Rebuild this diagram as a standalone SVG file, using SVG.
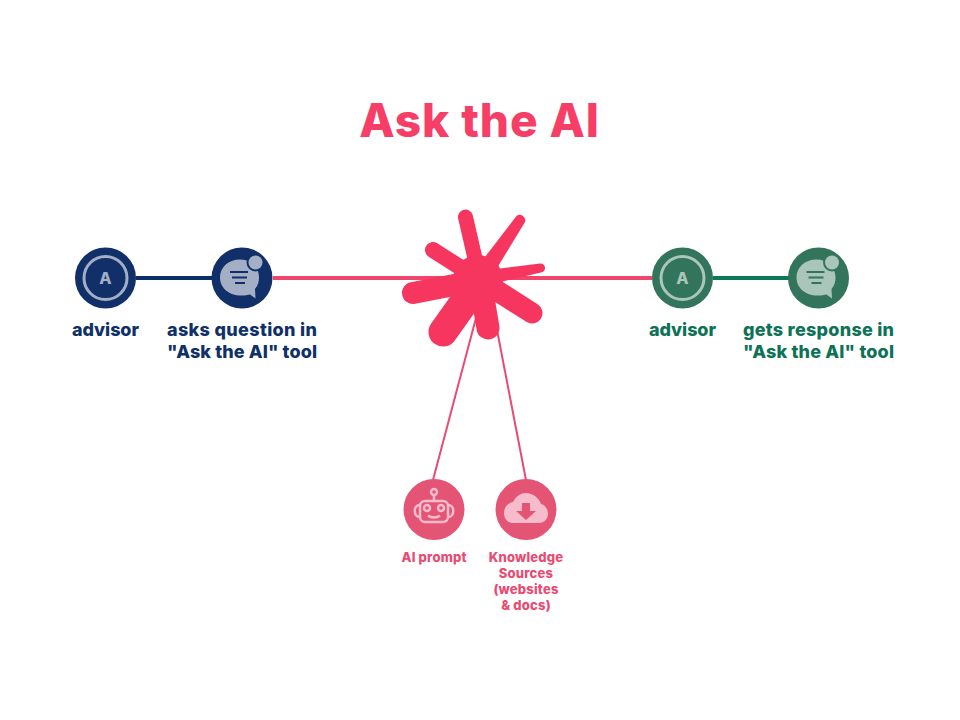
<svg xmlns="http://www.w3.org/2000/svg" width="960" height="720" viewBox="0 0 960 720">
<style>
text{font-family:"Inter","Liberation Sans",sans-serif;font-weight:800}
.title{font-size:46px;fill:#f63e66;text-anchor:middle;letter-spacing:.9px}
.blue{font-size:18px;fill:#0f3068}
.green{font-size:18px;fill:#0e7257}
.mid{text-anchor:middle}
.small{font-size:13px;fill:#ea4a72;text-anchor:middle;letter-spacing:.2px}
.arm{stroke:#f7365f;stroke-linecap:round;fill:none}
.star{fill:#f7365f}
.lb{fill:#a4aec5}.lg{fill:#aac6ba}.lp{fill:#f6bccb}
.db{fill:#11306a}.dg{fill:#33745c}.dp{fill:#e45475}
</style>
<defs>
<path id="bub" d="M240 259.500C228 259.500 220 267.500 220 277.500C220 288 229 295.500 241 295.500C245 295.500 248 295 250 294.500L255.500 298.500L255 289C258 285.500 259 281.500 259 277.500C259 267.500 251 259.500 240 259.500Z"/>
</defs>
<text class="title" x="479.500" y="137">Ask the AI</text>
<g id="connectors" fill="none">
<line x1="136" y1="278" x2="212" y2="278" stroke="#0b2f6b" stroke-width="4"/>
<line x1="273" y1="278" x2="652" y2="278" stroke="#f0466e" stroke-width="4"/>
<line x1="713" y1="278" x2="789" y2="278" stroke="#0c7a5a" stroke-width="4"/>
<line x1="476" y1="318" x2="433" y2="480" stroke="#ea4a72" stroke-width="2"/>
<line x1="497" y1="330" x2="526" y2="480" stroke="#ea4a72" stroke-width="2"/>
</g>
<g id="node-advisor-1">
<circle class="db" cx="105.500" cy="278" r="30.500"/>
<circle cx="105.500" cy="278" r="21.500" fill="none" stroke="#a4aec5" stroke-width="3"/>
<text x="105.500" y="284" text-anchor="middle" style="font-size:16px;fill:#a4aec5">A</text>
<text class="blue" x="72" y="336" textLength="67" lengthAdjust="spacing">advisor</text>
</g>
<g id="node-asks">
<circle class="db" cx="242" cy="278" r="30.500"/>
<use href="#bub" class="lb"/>
<circle cx="255.500" cy="262.500" r="9" class="db"/>
<circle cx="255.500" cy="262.500" r="7" class="lb"/>
<path d="M230 272H248M232 277.500H247M235 283H245" stroke="#11306a" stroke-width="2" fill="none"/>
<text class="blue" x="167" y="336" textLength="150" lengthAdjust="spacing">asks question in</text>
<text class="blue" x="167" y="358" textLength="150" lengthAdjust="spacing">"Ask the AI" tool</text>
</g>
<g id="node-star">
<line class="arm" x1="465.500" y1="217" x2="480" y2="280" stroke-width="15"/>
<line class="arm" x1="433" y1="250" x2="480" y2="280" stroke-width="16"/>
<line class="arm" x1="532" y1="313" x2="480" y2="280" stroke-width="21"/>
<line class="arm" x1="488" y1="328" x2="480" y2="280" stroke-width="23"/>
<line class="arm" x1="443" y1="332" x2="480" y2="280" stroke-width="29"/>
<line class="arm" x1="413" y1="293" x2="480" y2="280" stroke-width="22"/>
<path class="star" d="M516.500 216A5.500 5.500 0 0 1 525 222L497 268L485 257Z"/>
<path class="star" d="M540 263.500A4.500 4.500 0 0 1 541 272.500L500 282L496 269Z"/>
<circle class="star" cx="478" cy="280" r="25"/>
</g>
<g id="node-advisor-2">
<circle class="dg" cx="682.500" cy="278" r="30.500"/>
<circle cx="682.500" cy="278" r="21.500" fill="none" stroke="#aac6ba" stroke-width="3"/>
<text x="682.500" y="284" text-anchor="middle" style="font-size:16px;fill:#aac6ba">A</text>
<text class="green" x="649" y="336" textLength="67" lengthAdjust="spacing">advisor</text>
</g>
<g id="node-gets">
<circle class="dg" cx="818.500" cy="278" r="30.500"/>
<use href="#bub" x="576.500" class="lg"/>
<circle cx="832" cy="262.500" r="9" class="dg"/>
<circle cx="832" cy="262.500" r="7" class="lg"/>
<path d="M806.500 272H824.500M808.500 277.500H823.500M811.500 283H821.500" stroke="#33745c" stroke-width="2" fill="none"/>
<text class="green" x="743" y="336" textLength="151" lengthAdjust="spacing">gets response in</text>
<text class="green" x="743" y="358" textLength="151" lengthAdjust="spacing">"Ask the AI" tool</text>
</g>
<g id="node-prompt">
<circle class="dp" cx="434" cy="509.500" r="30.500"/>
<g fill="none" stroke="#f6bccb" stroke-width="2.500">
<rect x="420" y="501" width="28" height="21" rx="5"/>
<circle cx="434" cy="492" r="3"/>
<path d="M434 495V501"/>
<path d="M420 505C413 505 413 517 420 517M448 505C455 505 455 517 448 517"/>
<circle cx="427" cy="508" r="3"/>
<circle cx="441" cy="508" r="3"/>
<path d="M428 515.500C431 518 437 518 440 515.500"/>
</g>
<text class="small" x="434" y="562">AI prompt</text>
</g>
<g id="node-knowledge">
<circle class="dp" cx="526" cy="509.500" r="30.500"/>
<path class="lp" d="M513 523C507 523 504 518 504 513C504 507 508 503 513 502C516 496 521 493 526 493C533 493 539 498 541 504C545 505 548 509 548 514C548 519 544 523 539 523Z"/>
<path class="dp" d="M522 503H530V511H536L526 520L516 511H522Z"/>
<text class="small" x="526" y="562">Knowledge</text>
<text class="small" x="526" y="578">Sources</text>
<text class="small" x="526" y="594">(websites</text>
<text class="small" x="526" y="610">&amp; docs)</text>
</g>
</svg>
